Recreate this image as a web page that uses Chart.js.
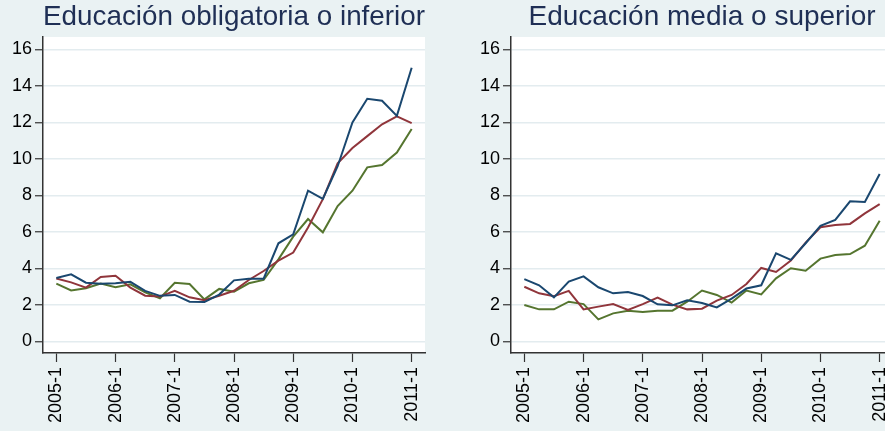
<!DOCTYPE html>
<html>
<head>
<meta charset="utf-8">
<script src="https://cdn.jsdelivr.net/npm/chart.js@4.4.1/dist/chart.umd.min.js"></script>
<style>
  html, body { margin: 0; padding: 0; background: #eaf2f3; overflow: hidden; }
  #wrap { position: relative; width: 885px; height: 431px; overflow: hidden; }
  canvas { position: absolute; top: 0; }
  #left { left: 0; }
  #right { left: 440px; }
</style>
</head>
<body>
<div id="wrap">
  <canvas id="left" width="440" height="431"></canvas>
  <canvas id="right" width="453" height="431"></canvas>
</div>
<script>
// quarters shown on the x axis (one point per quarter)
const quarters = [
  "2005-1", "2005-2", "2005-3", "2005-4",
  "2006-1", "2006-2", "2006-3", "2006-4",
  "2007-1", "2007-2", "2007-3", "2007-4",
  "2008-1", "2008-2", "2008-3", "2008-4",
  "2009-1", "2009-2", "2009-3", "2009-4",
  "2010-1", "2010-2", "2010-3", "2010-4",
  "2011-1"
];
const yTicks = [0, 2, 4, 6, 8, 10, 12, 14, 16];

const panelTitles = ["Educación obligatoria o inferior", "Educación media o superior"];

// Educación obligatoria o inferior
const obligNavy   = [3.48, 3.68, 3.22, 3.17, 3.19, 3.27, 2.77, 2.50, 2.55, 2.18, 2.16, 2.57, 3.35, 3.44, 3.44, 5.38, 5.87, 8.26, 7.81, 9.60, 12.0, 13.3, 13.19, 12.36, 15.0];
const obligMaroon = [3.45, 3.24, 2.95, 3.53, 3.60, 2.95, 2.51, 2.46, 2.77, 2.42, 2.26, 2.51, 2.78, 3.37, 3.86, 4.43, 4.87, 6.25, 7.80, 9.76, 10.6, 11.25, 11.9, 12.33, 11.96];
const obligGreen  = [3.17, 2.80, 2.92, 3.17, 2.97, 3.13, 2.69, 2.37, 3.22, 3.15, 2.31, 2.88, 2.73, 3.19, 3.37, 4.50, 5.74, 6.71, 5.98, 7.42, 8.26, 9.54, 9.67, 10.35, 11.64];

// Educación media o superior
const mediaNavy   = [3.42, 3.08, 2.42, 3.28, 3.57, 2.97, 2.64, 2.71, 2.49, 2.04, 1.98, 2.26, 2.11, 1.87, 2.35, 2.90, 3.08, 4.83, 4.47, 5.38, 6.33, 6.66, 7.68, 7.64, 9.18];
const mediaMaroon = [3.00, 2.64, 2.48, 2.77, 1.76, 1.91, 2.05, 1.73, 2.05, 2.40, 2.02, 1.76, 1.80, 2.24, 2.55, 3.15, 4.03, 3.81, 4.43, 5.42, 6.26, 6.38, 6.44, 7.02, 7.52];
const mediaGreen  = [2.00, 1.76, 1.76, 2.18, 2.05, 1.21, 1.54, 1.69, 1.62, 1.69, 1.69, 2.18, 2.79, 2.55, 2.13, 2.79, 2.58, 3.46, 4.01, 3.88, 4.54, 4.74, 4.79, 5.25, 6.62];

const NAVY = "#1a476f", MAROON = "#90353b", GREEN = "#55752f";
const FONT = "'Liberation Sans', Arial, Helvetica, sans-serif";

const plotBg = {
  id: "plotBg",
  beforeDraw(chart) {
    const { ctx, chartArea: a } = chart;
    ctx.save();
    ctx.fillStyle = "#ffffff";
    ctx.fillRect(a.left, a.top, a.right - a.left, a.bottom - a.top);
    ctx.restore();
  }
};

function toPoints(values) {
  return values.map((v, i) => ({ x: i, y: v }));
}

function line(values, color) {
  return {
    data: toPoints(values),
    borderColor: color,
    borderWidth: 2,
    pointRadius: 0,
    tension: 0,
    fill: false
  };
}

function makePanel(id, title, series, yWidth, padRight) {
  new Chart(document.getElementById(id), {
    type: "line",
    data: { datasets: series },
    plugins: [plotBg],
    options: {
      responsive: false,
      animation: false,
      devicePixelRatio: 1,
      layout: { padding: { left: 0, right: padRight, top: 0, bottom: 0 } },
      plugins: {
        legend: { display: false },
        tooltip: { enabled: false },
        title: {
          display: true,
          text: title,
          fullSize: false,
          color: "#1f2f55",
          font: { family: FONT, size: 28, weight: "normal", lineHeight: "34px" },
          padding: { top: 0, bottom: 3 }
        }
      },
      scales: {
        x: {
          type: "linear",
          min: -0.9,
          max: 24.9,
          afterBuildTicks: s => {
            s.ticks = quarters
              .map((q, i) => ({ value: i, q }))
              .filter(t => t.q.endsWith("-1"))
              .map(t => ({ value: t.value }));
          },
          afterFit: s => {
            s.height = 78;
            s.paddingLeft = 0; s.paddingRight = 0;
          },
          ticks: {
            autoSkip: false,
            minRotation: 90,
            maxRotation: 90,
            padding: 5,
            color: "#000",
            font: { family: FONT, size: 18 },
            callback: v => quarters[v]
          },
          grid: {
            drawOnChartArea: false,
            drawTicks: true,
            tickLength: 9,
            tickColor: "#333",
            tickWidth: 1.2
          },
          border: { display: true, color: "#333", width: 1.5 }
        },
        y: {
          min: -0.63,
          max: 16.68,
          afterBuildTicks: s => { s.ticks = yTicks.map(v => ({ value: v })); },
          afterFit: s => {
            s.width = yWidth;
            s.paddingTop = 0; s.paddingBottom = 0;
          },
          ticks: {
            padding: 3,
            color: "#000",
            font: { family: FONT, size: 18 }
          },
          grid: {
            color: "#e3ecef",
            lineWidth: 1.5,
            drawTicks: true,
            tickLength: 8,
            tickColor: "#333",
            tickWidth: 1.2
          },
          border: { display: true, color: "#333", width: 1.5 }
        }
      }
    }
  });
}

makePanel("left", panelTitles[0],
  [line(obligNavy, NAVY), line(obligMaroon, MAROON), line(obligGreen, GREEN)], 43, 15);
makePanel("right", panelTitles[1],
  [line(mediaNavy, NAVY), line(mediaMaroon, MAROON), line(mediaGreen, GREEN)], 71, 0);
</script>
</body>
</html>
